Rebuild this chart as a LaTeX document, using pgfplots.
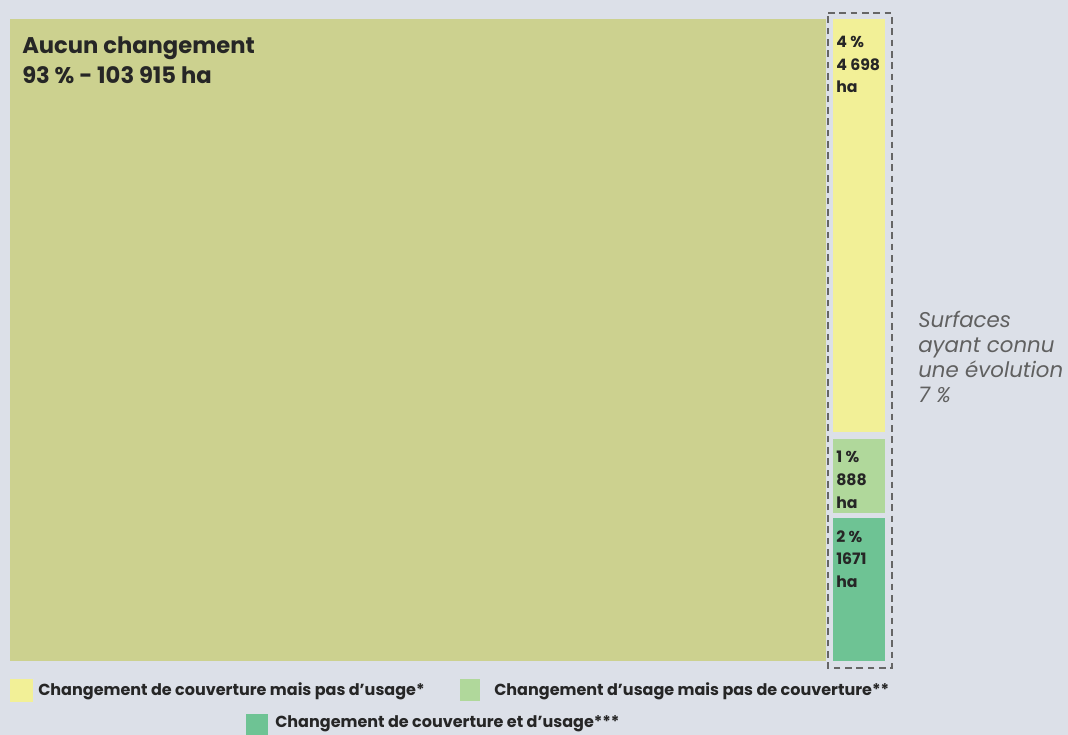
\documentclass[border=0pt]{standalone}
\usepackage{pgfplots}
\pgfplotsset{compat=1.18}
\usepackage{fontspec}
\setmainfont{Poppins}
\definecolor{bg}{HTML}{DCE0E8}
\definecolor{cmain}{HTML}{CCD18F}
\definecolor{cyel}{HTML}{F2F097}
\definecolor{clgr}{HTML}{B0D89B}
\definecolor{cgr}{HTML}{6EC394}
\definecolor{txt}{HTML}{262626}
\begin{document}
\begin{tikzpicture}
\begin{axis}[
  width=801pt, height=551.25pt, scale only axis,
  xmin=0, xmax=1068, ymin=0, ymax=735, y dir=reverse,
  axis lines=none, clip=false,
]
% background
\addplot[fill=bg, draw=none] coordinates {(0,0) (1068,0) (1068,735) (0,735)} -- cycle;
% treemap tiles: Aucun changement 103915 ha, 4698 ha, 888 ha, 1671 ha
\addplot[fill=cmain, draw=none] coordinates {(10,19) (826,19) (826,661) (10,661)} -- cycle;
\addplot[fill=cyel, draw=none] coordinates {(833,19) (885,19) (885,432) (833,432)} -- cycle;
\addplot[fill=clgr, draw=none] coordinates {(833,439) (885,439) (885,513) (833,513)} -- cycle;
\addplot[fill=cgr, draw=none] coordinates {(833,518) (885,518) (885,661) (833,661)} -- cycle;
% dashed group box
\addplot[draw=gray!80!black, line width=0.9pt, dash pattern=on 5pt off 3.5pt] coordinates {(828,13) (892,13) (892,668) (828,668)} -- cycle;
% legend squares
\addplot[fill=cyel, draw=none] coordinates {(10,679) (33,679) (33,702) (10,702)} -- cycle;
\addplot[fill=clgr, draw=none] coordinates {(460,679) (480,679) (480,701) (460,701)} -- cycle;
\addplot[fill=cgr, draw=none] coordinates {(246,714) (268,714) (268,735) (246,735)} -- cycle;

\node[anchor=north west, align=left, text=txt, font=\bfseries\fontsize{17}{22.5}\selectfont, inner sep=0pt] at (axis cs:22,36) {Aucun changement\\93 \% - 103 915 ha};
\node[anchor=north west, align=left, text=txt, font=\bfseries\fontsize{11.8}{17}\selectfont, inner sep=0pt] at (axis cs:836,36) {4 \%\\4 698\\ha};
\node[anchor=north west, align=left, text=txt, font=\bfseries\fontsize{11.8}{17}\selectfont, inner sep=0pt] at (axis cs:836,451) {1 \%\\888\\ha};
\node[anchor=north west, align=left, text=txt, font=\bfseries\fontsize{11.8}{17}\selectfont, inner sep=0pt] at (axis cs:836,530) {2 \%\\1671\\ha};
\node[anchor=north west, align=left, text=gray!75!black, font=\itshape\fontsize{16}{18.75}\selectfont, inner sep=0pt] at (axis cs:918,311) {Surfaces\\ayant connu\\une évolution\\7 \%};
\node[anchor=west, text=txt, font=\bfseries\fontsize{12}{14}\selectfont, inner sep=0pt] at (axis cs:38,691) {Changement de couverture mais pas d’usage*};
\node[anchor=west, text=txt, font=\bfseries\fontsize{12}{14}\selectfont, inner sep=0pt] at (axis cs:494,691) {Changement d’usage mais pas de couverture**};
\node[anchor=west, text=txt, font=\bfseries\fontsize{12}{14}\selectfont, inner sep=0pt] at (axis cs:275,724) {Changement de couverture et d’usage***};
\end{axis}
\end{tikzpicture}
\end{document}
